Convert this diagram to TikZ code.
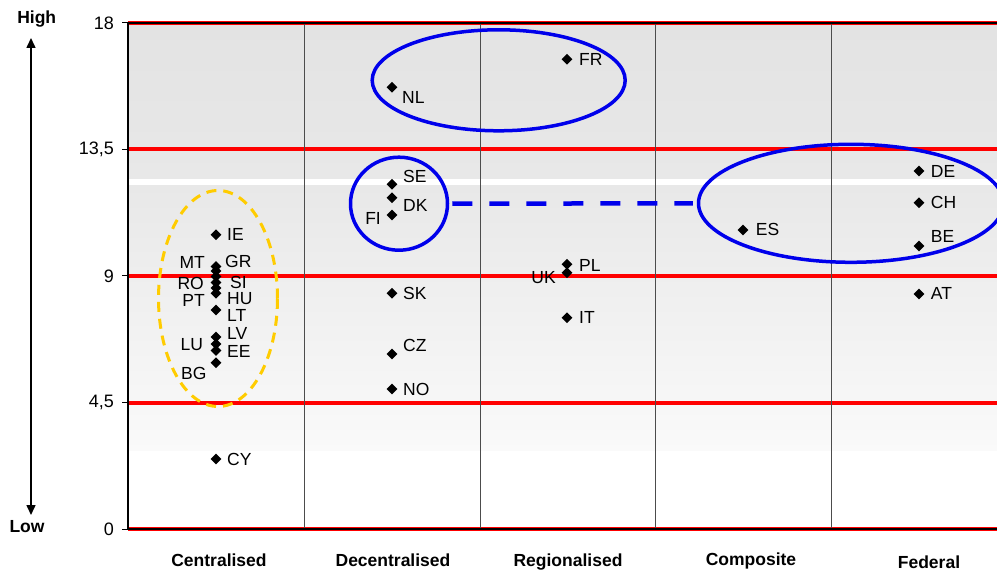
\documentclass[tikz,border=0pt]{standalone}
\usepackage{fontspec}
\setmainfont{Liberation Sans}
\usetikzlibrary{shapes.geometric,arrows.meta}

\definecolor{grpblue}{RGB}{0,0,235}
\definecolor{grpyellow}{RGB}{255,204,0}

\tikzset{
    mk/.style={diamond,fill=black,inner sep=0pt,minimum size=11pt},
    ctry/.style={inner sep=0pt,font=\fontsize{17.5}{20}\selectfont},
    ticklab/.style={inner sep=0pt,anchor=east,font=\fontsize{18}{21}\selectfont},
    catlab/.style={inner sep=0pt,anchor=base,font=\bfseries\fontsize{17.5}{21}\selectfont},
    redline/.style={red,line width=4pt},
    grp/.style={draw=grpblue,line width=3.5pt,ellipse,inner sep=0pt},
}

\begin{document}
\begin{tikzpicture}[x=1pt,y=-1pt]
            \useasboundingbox (0,0) rectangle (997,572);
                \fill[top color=black!11, bottom color=black!9] (128,23) rectangle (997,179);
                \fill[top color=black!9, bottom color=black!2] (128,186) rectangle (997,450);
                \foreach \v/\t in {23/18, 149.5/{13,5}, 276/9, 402.5/{4,5}, 529/0} {
                    \draw[redline] (128,\v) -- (997,\v);
                    \draw[line width=1pt] (122,\v) -- (128,\v);
                    \node[ticklab] (tick\t) at (114,\v) {\t};
                }
                \foreach \x in {304,480,655,831}
                    \draw[black!70, line width=1pt] (\x,23) -- (\x,529);
                \draw[line width=2.3pt] (997,23) -- (128,23) -- (128,529) -- (997,529);

                \coordinate (hitip) at (31,38);
                \coordinate (lotip) at (31,515);
                \draw[{Triangle[length=10pt,width=9pt]}-{Triangle[length=10pt,width=9pt]}, line width=1.5pt] (hitip) -- (lotip);
                \node[catlab] (high) at (36.7,24) {High};
                \node[catlab] (low) at (27,532) {Low};

                \node[catlab] (centr) at (219,566) {Centralised};
                \node[catlab] (decentr) at (393,566) {Decentralised};
                \node[catlab] (region) at (568,566) {Regionalised};
                \node[catlab] (compos) at (751,565) {Composite};
                \node[catlab] (feder) at (929,568) {Federal};

                \foreach \n/\x/\y/\a/\lx/\ly in {
                    IE/216/234.7/west/227/234.7, GR/216/266.5/west/225/261,
                    MT/216/271/east/205/262.7, RO/216/276.5/east/204/283.3,
                    SI/216/282.5/west/230/282.5, HU/216/288/west/227/299,
                    PT/216/293.3/east/205/300.5, LT/216/310/west/227/315.5,
                    LV/216/337/west/227/333.3, LU/216/344/east/203.3/345,
                    EE/216/350.5/west/227/351.7, BG/216/362.7/east/206.7/373.3,
                    CY/216/459/west/227/459,
                    NL/392/87.3/west/402/97.3, SE/392/184.3/west/403/176.7,
                    DK/392/197.7/west/403/205, FI/392/215/east/381/218.3,
                    SK/392/293.3/west/403/293.3, CZ/392/354/west/403/345.7,
                    NO/392/389/west/403/389,
                    FR/567/59.3/west/579/59.3, PL/567/264.3/west/579/265.7,
                    UK/567/272.7/east/556/277.7, IT/567/317.7/west/579/317.7,
                    ES/743/230/west/755.7/229.3,
                    DE/919/171/west/930.7/171, CH/919/202.7/west/930.7/202.7,
                    BE/919/246/west/930.7/236.7, AT/919/294/west/930.7/293.3}
                {
                    \node[mk] (\n) at (\x,\y) {};
                    \node[ctry, anchor=\a] (\n-lab) at (\lx,\ly) {\n};
                }

                \node[draw=grpyellow, ellipse, line width=3pt, dash pattern=on 10pt off 7pt,
                    inner sep=0pt, minimum width=119, minimum height=216] (central) at (218,298.5) {};
                \node[grp, minimum width=253, minimum height=101] (topgrp) at (498.7,80.3) {};
                \node[grp, minimum width=97, minimum height=93] (nordic) at (399,203.7) {};
                \node[grp, minimum width=305, minimum height=118] (fedgrp) at (851,203.3) {};
                \draw[grpblue, line width=4.5pt, dash pattern=on 20pt off 17pt] ([xshift=3]nordic.east) -- ([xshift=-4]fedgrp.west);
            \end{tikzpicture}
\end{document}
